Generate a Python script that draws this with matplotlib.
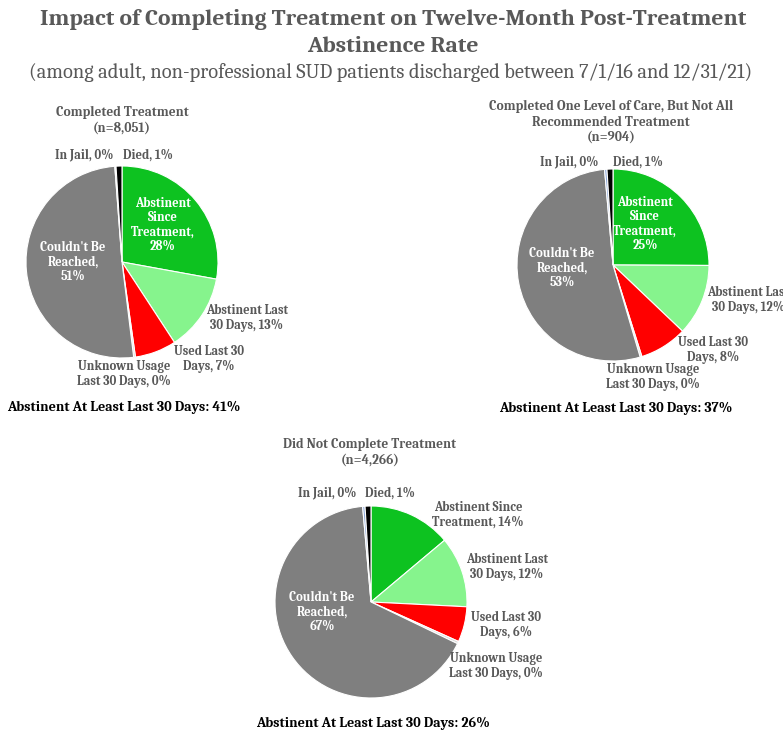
import matplotlib
matplotlib.use("Agg")

import matplotlib.pyplot as plt  # noqa: E402

# ─── Data ────────────────────────────────────────────────────────────────────
categories = [
    "Abstinent Since Treatment",
    "Abstinent Last 30 Days",
    "Used Last 30 Days",
    "Unknown Usage Last 30 Days",
    "Couldn't Be Reached",
    "In Jail",
    "Died",
]
completed = [28, 13, 7, 0.3, 51, 0.2, 1]
one_level = [25, 12, 8, 0.3, 53, 0.4, 1]
not_completed = [14, 12, 6, 0.4, 67, 0.4, 1]

panel_titles = [
    "Completed Treatment\n(n=8,051)",
    "Completed One Level of Care, But Not All\nRecommended Treatment\n(n=904)",
    "Did Not Complete Treatment\n(n=4,266)",
]
abstinent_totals = ["41%", "37%", "26%"]

colors = ["#0DC220", "#86F48D", "#FF0000", "#D9D9D9", "#7F7F7F", "#8EA9DB", "#000000"]

# ─── Figure helpers ──────────────────────────────────────────────────────────
W, H = 783, 735
fig = plt.figure(figsize=(W / 100, H / 100), dpi=100)
fig.patch.set_facecolor("white")

GREY = "#595959"
SERIF = ["Caladea", "DejaVu Serif"]
LBL = 9.1   # slice labels
SUB = 9.6   # panel headings
TOT = 10.2  # "Abstinent At Least..." lines


def px(x, y):
    return x / W, 1 - y / H


def put(x, y, s, **kw):
    kw.setdefault("family", SERIF)
    kw.setdefault("fontweight", "bold")
    kw.setdefault("color", GREY)
    kw.setdefault("ha", "center")
    kw.setdefault("va", "center")
    kw.setdefault("fontsize", LBL)
    kw.setdefault("linespacing", 1.1)
    fig.text(*px(x, y), s, **kw)


def draw_pie(cx, cy, values, r=96):
    ax = fig.add_axes([(cx - r) / W, 1 - (cy + r) / H, 2 * r / W, 2 * r / H])
    ax.pie(values, colors=colors, startangle=90, counterclock=False, radius=1,
           wedgeprops=dict(edgecolor="white", linewidth=0.8))
    ax.set_xlim(-1, 1)
    ax.set_ylim(-1, 1)
    ax.axis("off")


# ─── Title ───────────────────────────────────────────────────────────────────
put(393, 20, "Impact of Completing Treatment on Twelve-Month Post-Treatment", fontsize=16.9)
put(393, 47, "Abstinence Rate", fontsize=16.9)
put(391, 73, "(among adult, non-professional SUD patients discharged between 7/1/16 and 12/31/21)",
    fontweight="normal", fontsize=14.7)

# ─── Pie 1: completed ────────────────────────────────────────────────────────
draw_pie(122, 262, completed)
put(122, 120, panel_titles[0], fontsize=SUB, linespacing=1.25)
put(113, 155, "In Jail, 0%", ha="right")
put(123, 155, "Died, 1%", ha="left")
put(163, 225, "Abstinent\nSince\nTreatment,\n28%", color="white")
put(73, 262, "Couldn't Be\nReached,\n51%", color="white")
put(247, 318, "Abstinent Last\n30 Days, 13%")
put(209, 359, "Used Last 30\nDays, 7%")
put(124, 374, "Unknown Usage\nLast 30 Days, 0%")
put(124, 407, "Abstinent At Least Last 30 Days: " + abstinent_totals[0],
    color="black", fontsize=TOT)

# ─── Pie 2: one level of care ────────────────────────────────────────────────
draw_pie(613, 265, one_level)
put(611, 122, panel_titles[1], fontsize=SUB, linespacing=1.25)
put(598, 162, "In Jail, 0%", ha="right")
put(613, 162, "Died, 1%", ha="left")
put(645, 224, "Abstinent\nSince\nTreatment,\n25%", color="white")
put(562, 268, "Couldn't Be\nReached,\n53%", color="white")
put(707, 300, "Abstinent Last\n30 Days, 12%", ha="left", multialignment="center")
put(713, 350, "Used Last 30\nDays, 8%")
put(653, 377, "Unknown Usage\nLast 30 Days, 0%")
put(616, 408, "Abstinent At Least Last 30 Days: " + abstinent_totals[1],
    color="black", fontsize=TOT)

# ─── Pie 3: did not complete ─────────────────────────────────────────────────
draw_pie(371, 602, not_completed)
put(370, 452, panel_titles[2], fontsize=SUB, linespacing=1.25)
put(356, 493, "In Jail, 0%", ha="right")
put(365, 493, "Died, 1%", ha="left")
put(478, 515, "Abstinent Since\nTreatment, 14%")
put(507, 567, "Abstinent Last\n30 Days, 12%")
put(506, 625, "Used Last 30\nDays, 6%")
put(496, 666, "Unknown Usage\nLast 30 Days, 0%")
put(322, 612, "Couldn't Be\nReached,\n67%", color="white")
put(373, 723, "Abstinent At Least Last 30 Days: " + abstinent_totals[2],
    color="black", fontsize=TOT)

fig.savefig("out.png", dpi=100, facecolor="white")
